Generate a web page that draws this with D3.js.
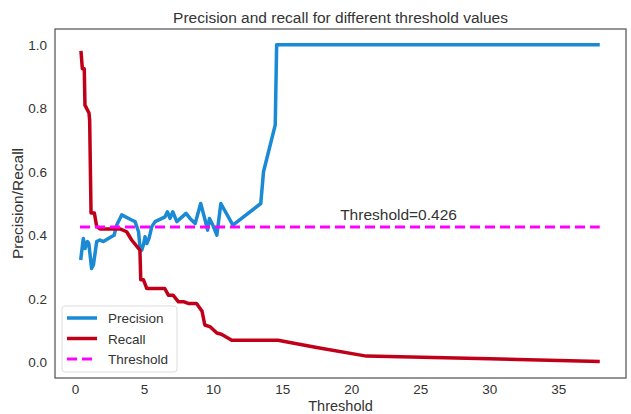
<!DOCTYPE html>
<html>
<head>
<meta charset="utf-8">
<script src="https://cdn.jsdelivr.net/npm/d3@7"></script>
<style>
  body { margin: 0; background: #fff; }
  text { font-family: "Liberation Sans", Arial, sans-serif; fill: #333; }
</style>
</head>
<body>
<svg id="chart" width="631" height="414"></svg>
<script>
// values
var precisionX = [0.41, 0.6, 0.72, 0.9, 1.0, 1.2, 1.33, 1.57, 1.8, 2.05, 2.66, 2.83, 3.02, 3.38, 4.1, 4.35, 4.6, 4.7, 4.83, 4.95, 5.07, 5.2, 5.36, 5.56, 5.8, 6.52, 6.69, 6.88, 7.08, 7.37, 8.04, 8.33, 8.7, 9.1, 9.42, 9.6, 9.73, 9.98, 10.27, 10.56, 11.43, 13.45, 13.65, 14.5, 14.6, 38.0];
var precisionY = [0.322, 0.39, 0.358, 0.38, 0.374, 0.295, 0.306, 0.38, 0.385, 0.38, 0.396, 0.40, 0.432, 0.464, 0.448, 0.443, 0.411, 0.364, 0.353, 0.369, 0.395, 0.374, 0.39, 0.427, 0.443, 0.458, 0.474, 0.453, 0.474, 0.443, 0.469, 0.453, 0.437, 0.50, 0.448, 0.416, 0.453, 0.432, 0.40, 0.50, 0.432, 0.50, 0.60, 0.748, 1.0, 1.0];

var recallX = [0.43, 0.53, 0.67, 0.72, 1.01, 1.06, 1.16, 1.4, 1.57, 1.8, 3.26, 3.74, 4.1, 4.7, 4.76, 4.95, 5.2, 6.5, 6.76, 7.1, 7.49, 7.9, 8.2, 8.8, 9.2, 9.4, 9.8, 10.27, 10.6, 11.35, 14.7, 17.5, 21.1, 30.0, 38.0];
var recallY = [0.981, 0.925, 0.925, 0.81, 0.785, 0.763, 0.47, 0.47, 0.427, 0.42, 0.42, 0.411, 0.385, 0.353, 0.26, 0.26, 0.232, 0.232, 0.211, 0.211, 0.19, 0.19, 0.185, 0.185, 0.16, 0.117, 0.111, 0.092, 0.088, 0.069, 0.069, 0.046, 0.019, 0.011, 0.002];

var thresholdValue = 0.426;
var thresholdRange = [0.36, 38.0];

var xTicks = [0, 5, 10, 15, 20, 25, 30, 35];
var yTicks = [0.0, 0.2, 0.4, 0.6, 0.8, 1.0];

var seriesNames = ["Precision", "Recall", "Threshold"];
var seriesColors = ["#1a8ad4", "#c00018", "#ff00ff"];

var margin = { top: 29, right: 5, bottom: 36, left: 55 },
  width = 631, height = 414;

var svg = d3.select("#chart");

var x = d3.scaleLinear()
  .domain([-1.45, 39.9])
  .range([margin.left, width - margin.right]);

var y = d3.scaleLinear()
  .domain([-0.05, 1.05])
  .range([height - margin.bottom, margin.top]);

// tick labels (seaborn white style: no tick marks)
svg.append("g")
  .attr("transform", "translate(0," + (height - margin.bottom) + ")")
  .call(d3.axisBottom(x).tickValues(xTicks).tickSize(0).tickPadding(6).tickFormat(d3.format("d")))
  .call(function (g) { g.select(".domain").remove(); })
  .selectAll("text").style("font-size", "13.5px").attr("fill", "#3a3a3a");

svg.append("g")
  .attr("transform", "translate(" + margin.left + ",0)")
  .call(d3.axisLeft(y).tickValues(yTicks).tickSize(0).tickPadding(8).tickFormat(d3.format(".1f")))
  .call(function (g) { g.select(".domain").remove(); })
  .selectAll("text").style("font-size", "13.5px").attr("fill", "#3a3a3a");

var line = d3.line()
  .x(function (d) { return x(d[0]); })
  .y(function (d) { return y(d[1]); });

svg.append("path")
  .datum(d3.zip(precisionX, precisionY))
  .attr("d", line)
  .attr("fill", "none")
  .attr("stroke", seriesColors[0])
  .attr("stroke-width", 3.5)
  .attr("stroke-linejoin", "round");

svg.append("path")
  .datum(d3.zip(recallX, recallY))
  .attr("d", line)
  .attr("fill", "none")
  .attr("stroke", seriesColors[1])
  .attr("stroke-width", 3.5)
  .attr("stroke-linejoin", "round");

svg.append("path")
  .datum(thresholdRange.map(function (t) { return [t, thresholdValue]; }))
  .attr("d", line)
  .attr("fill", "none")
  .attr("stroke", seriesColors[2])
  .attr("stroke-width", 3)
  .attr("stroke-dasharray", "10,5");

svg.append("text")
  .attr("x", x(19.2))
  .attr("y", y(0.448))
  .style("font-size", "15.5px")
  .text("Threshold=" + thresholdValue);

// frame
svg.append("rect")
  .attr("x", margin.left)
  .attr("y", margin.top)
  .attr("width", width - margin.right - margin.left)
  .attr("height", height - margin.bottom - margin.top)
  .attr("fill", "none")
  .attr("stroke", "#555")
  .attr("stroke-width", 1.25);

// title and axis labels
svg.append("text")
  .attr("x", (margin.left + width - margin.right) / 2)
  .attr("y", 23)
  .attr("text-anchor", "middle")
  .style("font-size", "15.5px")
  .text("Precision and recall for different threshold values");

svg.append("text")
  .attr("x", (margin.left + width - margin.right) / 2)
  .attr("y", 411)
  .attr("text-anchor", "middle")
  .style("font-size", "14.5px")
  .text("Threshold");

svg.append("text")
  .attr("transform", "translate(23," + ((margin.top + height - margin.bottom) / 2) + ") rotate(-90)")
  .attr("text-anchor", "middle")
  .style("font-size", "15.5px")
  .text("Precision/Recall");

// legend
var legend = svg.append("g").attr("transform", "translate(62,306)");
legend.append("rect")
  .attr("width", 115).attr("height", 66)
  .attr("rx", 3)
  .attr("fill", "#fff").attr("fill-opacity", 0.85)
  .attr("stroke", "#ddd");

seriesNames.forEach(function (name, i) {
  var g = legend.append("g").attr("transform", "translate(0," + (12 + i * 20.5) + ")");
  g.append("line")
    .attr("x1", 5).attr("x2", 35)
    .attr("stroke", seriesColors[i])
    .attr("stroke-width", i === 2 ? 3 : 3.5)
    .attr("stroke-dasharray", i === 2 ? "10,5" : null);
  g.append("text")
    .attr("x", 46).attr("y", 5)
    .style("font-size", "13.5px")
    .text(name);
});
</script>
</body>
</html>
